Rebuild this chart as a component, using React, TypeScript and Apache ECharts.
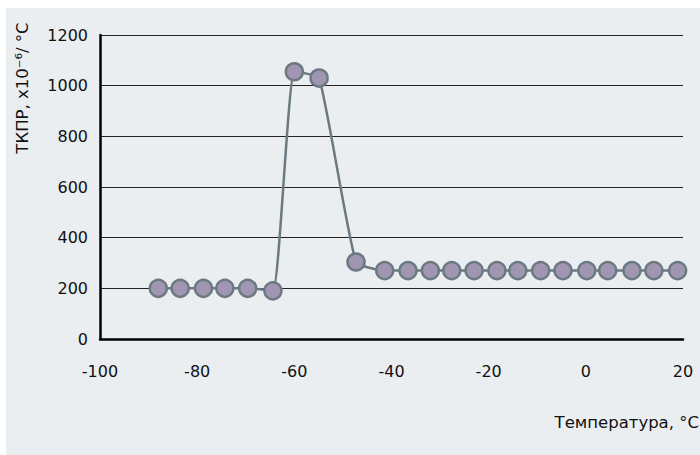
import React, { useEffect, useRef } from "react";
import * as echarts from "echarts";

const temps = [-88, -83.5, -78.7, -74.3, -69.6, -64.4, -60, -54.9, -47.3, -41.4, -36.6, -32, -27.6, -23, -18.3, -14, -9.3, -4.7, 0.2, 4.5, 9.5, 14, 18.9];
const tkpr = [200, 200, 200, 200, 200, 190, 1055, 1030, 304, 270, 270, 270, 270, 270, 270, 270, 270, 270, 270, 270, 270, 270, 270];
const xAxisName = "Температура, °C";
const yAxisName = "ТКПР, x10⁻⁶/ °C";

const FONT = "'DejaVu Sans', sans-serif";

export default function App() {
  const ref = useRef<HTMLDivElement>(null);
  useEffect(() => {
    document.body.style.margin = "0";
    const chart = echarts.init(ref.current!, null, { renderer: "svg" });
    const data = temps.map((t, i) => [t, tkpr[i]]);
    chart.setOption({
      animation: false,
      backgroundColor: "#ebeef1",
      textStyle: { fontFamily: FONT },
      grid: { left: 94, right: 17, top: 27, bottom: 116 },
      graphic: [
        {
          type: "text",
          x: 693,
          y: 414,
          style: {
            text: xAxisName,
            fill: "#111",
            font: `normal 16.5px ${FONT}`,
            textAlign: "right",
            textVerticalAlign: "middle",
          },
        },
        {
          type: "text",
          x: 16,
          y: 80,
          rotation: Math.PI / 2,
          style: {
            text: yAxisName,
            fill: "#111",
            font: `normal 16.5px ${FONT}`,
            textAlign: "center",
            textVerticalAlign: "middle",
          },
        },
      ],
      xAxis: {
        type: "value",
        min: -100,
        max: 20,
        interval: 20,
        axisLine: { show: true, onZero: false, lineStyle: { color: "#000", width: 2.5 } },
        axisTick: { show: false },
        splitLine: { show: false },
        axisLabel: { color: "#111", fontSize: 16, fontFamily: FONT, margin: 24 },
      },
      yAxis: {
        type: "value",
        min: 0,
        max: 1200,
        interval: 200,
        axisLine: { show: true, onZero: false, lineStyle: { color: "#000", width: 2.5 } },
        axisTick: { show: false },
        splitLine: { show: true, lineStyle: { color: "#222", width: 1 } },
        axisLabel: { color: "#111", fontSize: 16, fontFamily: FONT, margin: 12, formatter: (v: number) => String(v) },
      },
      series: [
        {
          type: "line",
          data,
          smooth: 0.15,
          symbol: "circle",
          symbolSize: 17,
          lineStyle: { color: "#6b7a82", width: 2.5 },
          itemStyle: { color: "#a096b2", borderColor: "#6b7a82", borderWidth: 2.5 },
          z: 3,
        },
      ],
    });
    return () => chart.dispose();
  }, []);
  return (
    <div style={{ width: 700, height: 455, background: "#fff", position: "relative" }}>
      <div ref={ref} style={{ position: "absolute", left: 6, top: 8, width: 694, height: 447 }} />
    </div>
  );
}
